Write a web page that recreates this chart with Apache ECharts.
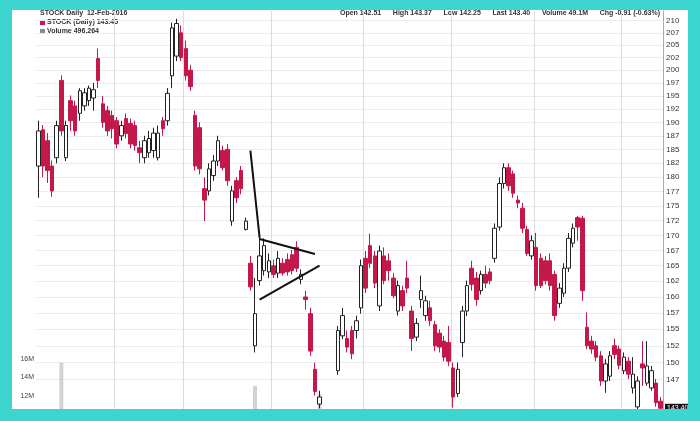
<!DOCTYPE html>
<html><head><meta charset="utf-8">
<script src="https://cdn.jsdelivr.net/npm/echarts@6/dist/echarts.min.js"></script>
<style>
html,body{margin:0;padding:0;background:#3dd5cf;}
#frame{position:absolute;left:0;top:0;width:700px;height:421px;background:#3dd5cf;}
#chart{position:absolute;left:12px;top:10px;width:676px;height:399px;background:#fff;}
</style></head><body>
<div id="frame"></div><div id="chart"></div>
<script>
const opens  = [182.0,188.6,186.6,182.0,183.5,198.0,183.5,194.1,193.1,191.7,193.1,194.1,194.6,202.3,193.5,192.2,191.3,190.3,187.5,190.7,
189.8,189.4,185.3,183.5,184.4,184.8,183.5,190.3,190.3,198.9,202.8,207.5,204.3,200.0,191.3,189.0,178.0,177.6,180.3,182.9,
184.8,185.0,172.4,179.4,181.2,171.0,165.4,152.5,162.6,164.2,164.0,165.0,163.8,165.4,166.0,166.8,168.0,162.8,160.0,157.4,
149.0,144.0,142.0,140.5,141.5,148.8,154.0,153.6,154.8,154.8,158.3,166.2,168.3,166.6,158.6,166.6,165.8,163.0,157.8,161.0,
163.0,157.8,153.8,159.6,157.1,158.3,155.7,154.4,153.2,153.0,149.2,145.5,153.0,157.8,164.6,163.0,161.0,163.6,164.0,166.2,
171.4,178.9,181.7,180.6,176.0,174.6,171.0,166.6,168.0,166.2,165.8,165.8,163.6,159.0,160.6,164.6,168.7,173.0,172.9,155.3,
153.2,152.5,151.0,147.3,148.0,152.5,152.0,148.8,150.2,146.3,143.6,149.8,147.0,146.3,147.0,144.4];
const highs  = [190.3,189.5,188.0,183.0,190.3,199.0,190.3,195.1,194.1,196.5,196.5,197.0,197.5,204.3,195.0,193.1,192.2,191.0,190.3,191.7,
190.7,190.3,186.6,187.5,188.4,189.0,189.4,191.0,196.5,209.6,210.4,209.0,205.9,201.0,192.2,190.0,180.0,182.5,184.0,187.5,
185.7,186.0,178.5,180.0,182.0,173.0,166.6,163.0,169.9,169.5,167.0,166.0,167.4,166.2,167.0,167.6,169.0,164.4,161.0,158.3,
150.0,145.9,143.0,142.8,143.0,155.5,158.3,154.8,155.5,157.1,166.0,167.4,170.3,167.4,168.3,168.0,167.0,163.8,162.6,161.8,
165.8,158.6,156.7,163.4,160.2,159.4,156.3,155.0,154.0,155.5,150.0,150.0,158.6,162.6,165.8,164.0,164.2,165.0,164.6,172.0,
180.0,182.5,182.5,181.2,176.8,175.5,171.6,170.0,170.4,167.0,166.6,167.0,164.2,162.2,165.4,170.4,172.0,173.3,173.3,157.6,
154.0,153.2,151.7,150.5,151.7,153.6,152.5,151.5,150.8,150.8,148.0,153.2,153.2,149.5,147.6,145.0];
const lows   = [176.4,180.0,179.0,176.6,182.5,187.5,182.9,188.4,187.5,190.3,192.2,193.1,192.2,196.5,189.0,187.5,187.0,185.2,186.6,187.0,
185.2,184.8,182.5,182.5,183.5,183.5,183.0,187.5,189.4,196.5,201.8,201.8,198.0,196.0,181.2,180.5,172.4,176.8,179.4,182.0,
181.2,178.5,171.6,175.5,177.0,170.8,161.0,151.5,161.8,163.4,163.0,163.0,163.0,163.4,163.4,163.6,164.0,162.0,158.0,151.0,
145.2,143.4,140.0,139.5,140.8,148.2,153.5,151.5,150.5,153.6,157.4,160.6,164.6,161.4,157.8,162.0,162.6,159.8,157.1,157.8,
160.6,151.7,153.2,158.3,156.3,155.5,151.7,151.5,150.2,149.5,143.5,145.0,150.8,157.0,161.0,158.6,160.4,161.4,162.0,165.5,
170.8,178.0,177.6,176.4,174.6,170.4,166.6,166.0,161.0,161.4,162.0,161.0,156.3,158.3,160.0,164.0,168.0,169.1,159.4,152.0,
151.3,150.2,146.6,145.6,147.3,150.5,149.0,148.3,147.6,145.5,143.3,146.6,146.6,145.9,143.6,143.0];
const closes = [188.4,182.0,181.2,177.6,189.4,188.4,189.4,190.3,188.4,196.0,195.6,196.5,196.2,198.0,190.0,188.4,188.8,186.0,189.4,187.9,
186.0,185.7,184.4,186.6,187.0,188.0,188.0,188.8,195.5,208.5,209.4,202.5,198.9,196.8,182.0,181.5,176.0,181.5,182.9,186.6,
181.7,179.4,177.6,176.4,178.0,172.4,161.6,157.4,166.6,168.3,165.8,163.6,166.2,163.8,164.0,164.2,164.6,163.6,159.6,151.7,
145.8,145.0,141.0,142.0,142.5,154.8,157.1,152.3,151.3,156.3,165.0,161.4,165.4,162.2,167.4,162.6,164.2,160.2,161.8,158.6,
161.4,153.6,155.9,161.0,159.4,156.3,152.5,152.3,150.8,150.2,145.0,149.0,157.8,161.8,162.0,159.6,163.6,162.2,162.6,171.2,
178.9,181.7,178.5,177.2,175.5,171.2,167.0,169.1,161.8,161.8,162.6,161.8,157.1,161.4,164.6,169.5,171.2,171.4,161.0,152.5,
152.0,150.8,147.3,149.8,151.0,151.2,149.6,150.8,148.3,148.3,147.3,149.2,149.5,148.8,144.2,143.4];
// volume: only the days whose bars rise above the visible volume range are readable
const volumes = {5: 15.6e6, 47: 13.1e6, 61: 12.2e6};
const priceTicks = [147.5,150,152.5,155,157.5,160,162.5,165,167.5,170,172.5,175,177.5,180,182.5,185,187.5,190,192.5,195,197.5,200,202.5,205,207.5,210];
const volumeTicks = [12e6, 14e6, 16e6];
const monthStarts = [17, 32, 51, 71, 90, 108, 127];
const pennantLines = [[[46, 184.8], [48, 169.6]], [[48, 169.4], [60, 166.9]], [[48, 159.6], [61, 165.0]]];

const N = closes.length;
const days = Array.from({length: N}, (_, i) => 'D' + (i + 1));
const candleData = days.map((_, i) => [opens[i], closes[i], lows[i], highs[i]]);
const volData = days.map((_, i) => volumes[i] !== undefined ? volumes[i] : null);

const RED = '#c4184b';
const chart = echarts.init(document.getElementById('chart'), null, {renderer: 'canvas'});
const txt = {fontFamily: 'Liberation Sans', fontSize: 7, fontWeight: 'bold', fill: '#333'};
chart.setOption({
  animation: false,
  backgroundColor: '#fff',
  grid: [
    {left: 24, right: 25, top: 1, bottom: 0},
    {left: 24, right: 25, top: 325, bottom: 0}
  ],
  xAxis: [
    {type: 'category', gridIndex: 0, data: days, boundaryGap: true,
     axisLine: {show: false}, axisTick: {show: false}, axisLabel: {show: false},
     splitLine: {show: true, interval: (i) => monthStarts.includes(i), lineStyle: {color: '#dcdcdc', width: 1}}},
    {type: 'category', gridIndex: 1, data: days, boundaryGap: true,
     axisLine: {show: false}, axisTick: {show: false}, axisLabel: {show: false}, splitLine: {show: false}}
  ],
  yAxis: [
    {type: 'log', logBase: 10, gridIndex: 0, position: 'right', min: 143.3, max: 212,
     axisLine: {show: true, lineStyle: {color: '#aaa'}},
     axisTick: {show: false, customValues: priceTicks},
     axisLabel: {customValues: priceTicks, formatter: (v) => String(Math.floor(v + 0.01)),
                 fontSize: 8, color: '#333', margin: 3, fontFamily: 'Liberation Sans'},
     splitLine: {show: true, lineStyle: {color: '#ececec', width: 1}}},
    {type: 'value', gridIndex: 1, position: 'left', min: 10.6e6, max: 18.6e6,
     axisLine: {show: false}, axisTick: {show: false, customValues: volumeTicks},
     axisLabel: {customValues: volumeTicks, formatter: (v) => Math.round(v / 1e6) + 'M',
                 fontSize: 7, color: '#444', margin: 2, fontFamily: 'Liberation Sans'},
     splitLine: {show: false}}
  ],
  series: [
    {type: 'bar', xAxisIndex: 1, yAxisIndex: 1, data: volData, barWidth: 4,
     itemStyle: {color: '#d3d3d3'}, z: 1},
    {type: 'candlestick', xAxisIndex: 0, yAxisIndex: 0, data: candleData, barWidth: 4, z: 3, clip: false,
     itemStyle: {color: '#ffffff', color0: RED, borderColor: '#222', borderColor0: RED, borderWidth: 1},
     markLine: {
       silent: true, symbol: ['none', 'none'], animation: false,
       data: pennantLines.map(([a, b]) => [
         {coord: a, lineStyle: {color: '#111', width: 2, type: 'solid'}, label: {show: false}},
         {coord: b}
       ])
     }},
    {type: 'line', xAxisIndex: 0, yAxisIndex: 0, data: [], silent: true, z: 5,
     markLine: {
       silent: true, symbol: ['none', 'none'], animation: false,
       lineStyle: {color: 'rgba(0,0,0,0)', width: 1},
       label: {show: true, position: 'end', formatter: closes[N - 1].toFixed(2), backgroundColor: '#111',
               color: '#fff', fontSize: 7, fontFamily: 'Liberation Sans', padding: [1, 2], distance: 2},
       data: [{yAxis: closes[N - 1]}]
     }}
  ],
  graphic: [
    {type: 'text', left: 28, top: 0, style: Object.assign({text: 'STOCK Daily  12-Feb-2016'}, txt)},
    {type: 'rect', left: 28, top: 10, shape: {width: 5, height: 5}, style: {fill: RED}},
    {type: 'text', left: 35, top: 9, style: Object.assign({text: 'STOCK (Daily) 143.45'}, txt)},
    {type: 'rect', left: 28, top: 19, shape: {width: 5, height: 5}, style: {fill: '#888'}},
    {type: 'text', left: 35, top: 18, style: Object.assign({text: 'Volume 496,264'}, txt)},
    {type: 'text', right: 28, top: 0, style: Object.assign({text: 'Open 142.51      High 143.37      Low 142.25      Last 143.40      Volume 49.1M      Chg -0.91 (-0.63%)'}, txt)}
  ]
});
</script>
</body></html>
